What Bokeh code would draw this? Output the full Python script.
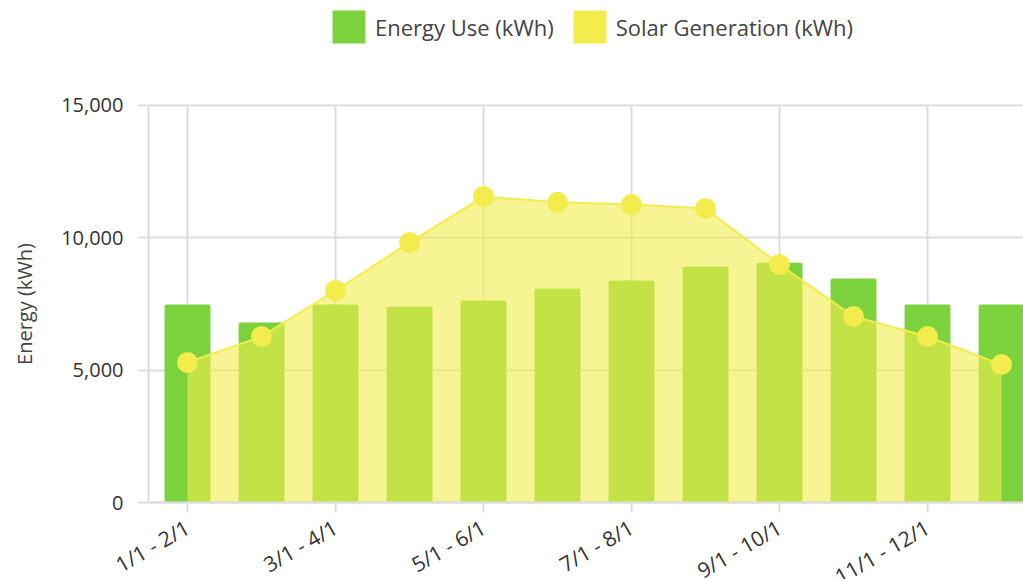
import math
from bokeh.plotting import figure
from bokeh.models import (ColumnDataSource, Range1d, FixedTicker,
                          NumeralTickFormatter, Legend, LegendItem)
from bokeh.embed import file_html
from bokeh.resources import INLINE

categories = ["1/1 - 2/1", "2/1 - 3/1", "3/1 - 4/1", "4/1 - 5/1",
              "5/1 - 6/1", "6/1 - 7/1", "7/1 - 8/1", "8/1 - 9/1",
              "9/1 - 10/1", "10/1 - 11/1", "11/1 - 12/1", "12/1 - 1/1"]
energy_use = [7480, 6800, 7480, 7400, 7630, 8090, 8390, 8920, 9060, 8460, 7480, 7480]
solar_gen = [5290, 6270, 8010, 9820, 11560, 11340, 11260, 11110, 8990, 7030, 6270, 5210]
y_ticks = [0, 5000, 10000, 15000]
x_tick_idx = [0, 2, 4, 6, 8, 10]

GREEN = "#7BD23C"
YELLOW = "#F2EC4C"
GRID = "#DDDDDD"
FONT = "Open Sans"

X_LEFT = -0.527   # left edge of the drawing area (data units)
X_RIGHT = 11.297
Y_TOP = 15000

src = ColumnDataSource(dict(x=list(range(len(categories))), use=energy_use, solar=solar_gen))

p = figure(width=1023, height=579,
           x_range=Range1d(-2.527, X_RIGHT), y_range=Range1d(-2909, 18967),
           output_backend="svg", toolbar_location=None,
           min_border_left=0, min_border_right=0,
           min_border_top=0, min_border_bottom=0)
p.outline_line_color = None

bars = p.vbar(x="x", top="use", width=0.62, source=src,
              fill_color=GREEN, line_color=None, border_radius=(2, 2, 0, 0))
p.varea(x="x", y1=0, y2="solar", source=src, fill_color=YELLOW, fill_alpha=0.6)
p.line(x="x", y="solar", source=src, line_color=YELLOW, line_width=2)
p.scatter(x="x", y="solar", source=src, size=21, fill_color=YELLOW, line_color=None)

# zero-height proxy used only for the legend swatch
proxy = p.vbar(x="x", top=0, bottom=0, width=0.6, source=src,
               fill_color=YELLOW, line_color=None)

legend = Legend(items=[LegendItem(label="Energy Use (kWh)", renderers=[bars]),
                       LegendItem(label="Solar Generation (kWh)", renderers=[proxy])],
                orientation="horizontal", location=(328, 532),
                glyph_width=41, glyph_height=41, label_height=41,
                label_text_font=FONT, label_text_font_size="22px",
                label_text_color="#444444", spacing=15, label_standoff=6,
                padding=0, margin=0, border_line_color=None,
                background_fill_alpha=0)
p.add_layout(legend, "center")

# x axis (pinned at y = 0)
p.xaxis.fixed_location = 0
p.xaxis.bounds = (X_LEFT, X_RIGHT)
p.xaxis.ticker = FixedTicker(ticks=x_tick_idx)
p.xaxis.major_label_overrides = {i: categories[i] for i in x_tick_idx}
p.xaxis.major_label_orientation = math.pi / 6
p.xaxis.axis_line_color = GRID
p.xaxis.axis_line_width = 2
p.xaxis.major_tick_line_color = GRID
p.xaxis.major_tick_line_width = 2
p.xaxis.major_tick_out = 10
p.xaxis.major_tick_in = 0
p.xaxis.minor_tick_line_color = None
p.xaxis.major_label_text_font = FONT
p.xaxis.major_label_text_font_size = "21px"
p.xaxis.major_label_text_color = "#333333"
p.xaxis.major_label_standoff = 13

# y axis (pinned at the left edge of the drawing area)
p.yaxis.fixed_location = X_LEFT
p.yaxis.ticker = FixedTicker(ticks=y_ticks)
p.yaxis.formatter = NumeralTickFormatter(format="0,0")
p.yaxis.bounds = (0, Y_TOP)
p.yaxis.axis_line_color = GRID
p.yaxis.axis_line_width = 2
p.yaxis.major_tick_line_color = GRID
p.yaxis.major_tick_line_width = 2
p.yaxis.major_tick_out = 11
p.yaxis.major_tick_in = 0
p.yaxis.minor_tick_line_color = None
p.yaxis.major_label_text_font = FONT
p.yaxis.major_label_text_font_size = "20px"
p.yaxis.major_label_text_color = "#333333"
p.yaxis.major_label_standoff = 14
p.yaxis.axis_label = "Energy (kWh)"
p.yaxis.axis_label_text_font = FONT
p.yaxis.axis_label_text_font_size = "20px"
p.yaxis.axis_label_text_font_style = "normal"
p.yaxis.axis_label_text_color = "#444444"
p.yaxis.axis_label_standoff = 20

# grids
p.xgrid.grid_line_color = GRID
p.xgrid.grid_line_width = 2
p.xgrid.cross_bounds = (0, Y_TOP)
p.ygrid.grid_line_color = GRID
p.ygrid.grid_line_width = 2
p.ygrid.cross_bounds = (X_LEFT, X_RIGHT)

open("out.html", "w").write(file_html(p, INLINE))
